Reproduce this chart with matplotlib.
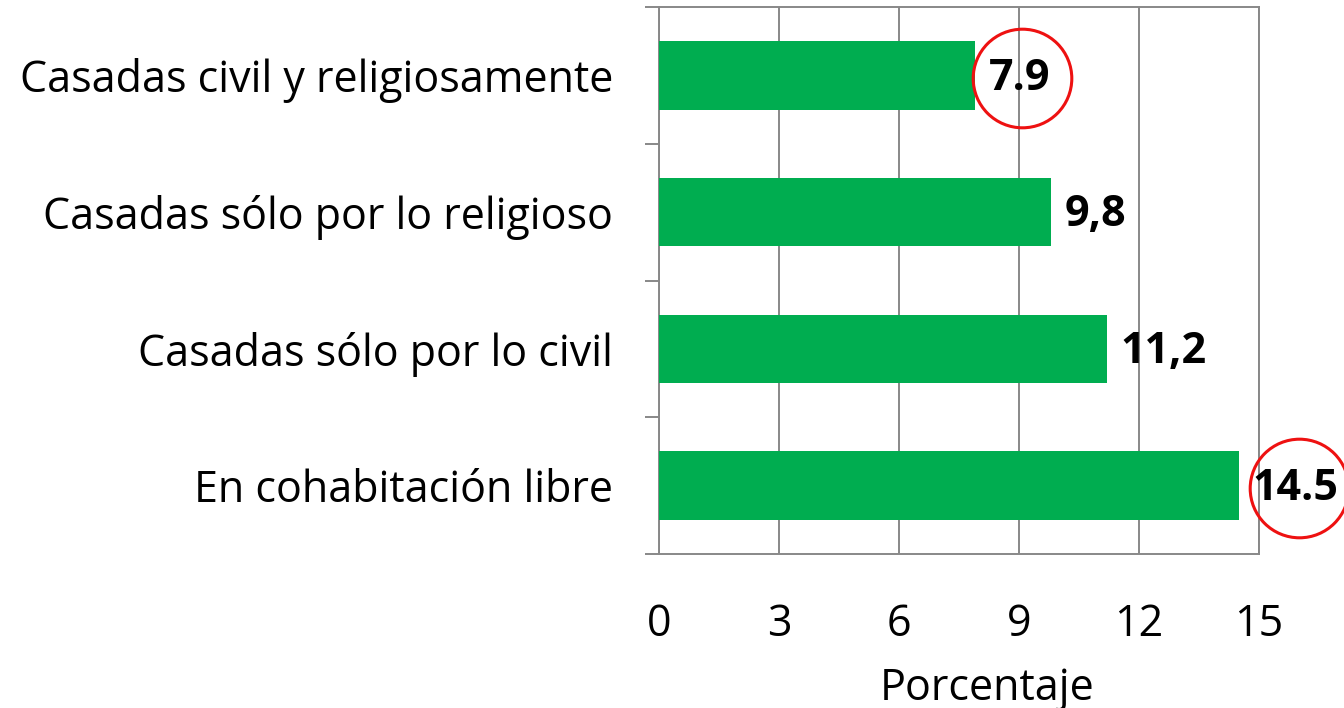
import matplotlib
matplotlib.use("Agg")
import matplotlib.pyplot as plt

categories = ["Casadas civil y religiosamente", "Casadas sólo por lo religioso",
              "Casadas sólo por lo civil", "En cohabitación libre"]
values = [7.9, 9.8, 11.2, 14.5]
value_labels = ["7.9", "9,8", "11,2", "14.5"]
xticks = [0, 3, 6, 9, 12, 15]
circled = [0, 3]

plt.rcParams['font.family'] = ['Open Sans', 'DejaVu Sans']
FS = 31

fig = plt.figure(figsize=(13.44, 7.08), dpi=100)
ax = fig.add_axes([659/1344, 1-554/708, 600/1344, 547/708])

green = "#00AD50"
gray = "#888888"
y = list(range(len(categories)))
ax.barh(y, values, height=0.5, color=green, zorder=3)
ax.set_xlim(0, 15)
ax.set_ylim(3.5, -0.5)

ax.set_xticks(xticks)
ax.set_xticklabels([str(t) for t in xticks], fontsize=FS)
ax.tick_params(axis='x', length=0, pad=35)
ax.set_yticks(y)
ax.set_yticklabels(categories, fontsize=FS)
ax.tick_params(axis='y', length=0, pad=33)
ax.set_yticks([-0.5, 0.5, 1.5, 2.5, 3.5], minor=True)
ax.tick_params(axis='y', which='minor', length=10, width=1.4, color=gray, direction='out')

ax.grid(axis='x', color=gray, linewidth=1.4, zorder=0)
for s in ax.spines.values():
    s.set_color(gray)
    s.set_linewidth(1.4)

ax.set_xlabel("Porcentaje", fontsize=FS)
ax.xaxis.set_label_coords(0.547, -0.205)

for i, (v, lab) in enumerate(zip(values, value_labels)):
    ax.annotate(lab, (v, i), xytext=(10, -2), textcoords='offset points',
                ha='left', va='center', fontsize=FS, fontweight='bold',
                annotation_clip=False, zorder=5)

centers_x = [9.07, 16.0]
for cx, i in zip(centers_x, circled):
    ax.plot([cx], [i + 0.02], marker='o', markersize=71, markerfacecolor='none',
            markeredgecolor='#EE1111', markeredgewidth=2.2, clip_on=False, zorder=6)

fig.savefig("out.png", dpi=100)
